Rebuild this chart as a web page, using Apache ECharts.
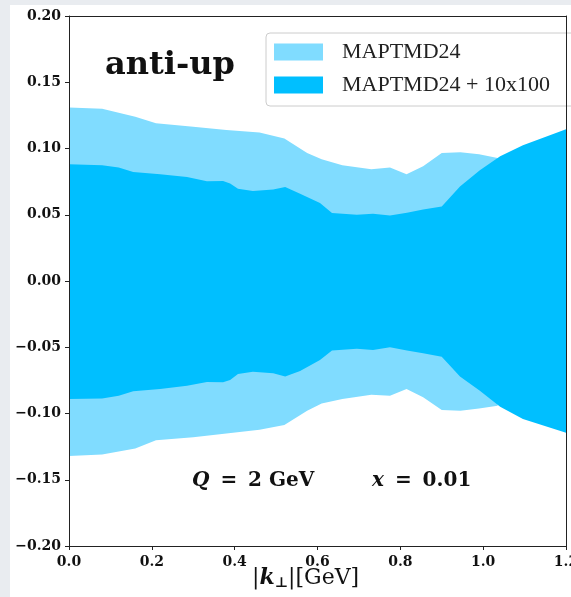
<!DOCTYPE html>
<html>
<head>
<meta charset="utf-8">
<script src="https://cdn.jsdelivr.net/npm/echarts@6/dist/echarts.min.js"></script>
<style>
  html, body { margin: 0; padding: 0; background: #e9ecf0; }
  #paper { position: absolute; left: 10px; top: 5px; width: 561px; height: 592px; background: #ffffff; }
  #chart { position: absolute; left: 0; top: 0; width: 571px; height: 597px; }
</style>
</head>
<body>
<div id="paper"></div>
<div id="chart"></div>
<script>
// ---- data ----
const xTicks = [0.0, 0.2, 0.4, 0.6, 0.8, 1.0, 1.2];
const yTicks = [-0.20, -0.15, -0.10, -0.05, 0.00, 0.05, 0.10, 0.15, 0.20];

// MAPTMD24 band (light)
const kLight = [0, 0.08, 0.16, 0.21, 0.30, 0.38, 0.46, 0.52, 0.575, 0.61, 0.66, 0.73, 0.775, 0.815, 0.855, 0.90, 0.945, 0.99, 1.035];
const upLight = [0.131, 0.130, 0.124, 0.119, 0.1165, 0.114, 0.112, 0.1075, 0.0966, 0.0918, 0.0873, 0.0843, 0.0856, 0.0805, 0.0866, 0.0966, 0.0971, 0.0956, 0.0928];
const loLight = [-0.132, -0.131, -0.1264, -0.1201, -0.118, -0.1151, -0.1123, -0.1087, -0.0979, -0.0924, -0.0891, -0.0858, -0.0866, -0.0815, -0.0878, -0.0974, -0.0979, -0.0962, -0.0941];

// MAPTMD24 + 10x100 band (dark)
const kDark = [0, 0.08, 0.12, 0.155, 0.22, 0.285, 0.333, 0.372, 0.389, 0.408, 0.444, 0.493, 0.522, 0.558, 0.606, 0.635, 0.695, 0.734, 0.775, 0.816, 0.855, 0.90, 0.944, 0.992, 1.041, 1.096, 1.2];
const upDark = [0.0881, 0.0873, 0.0856, 0.0823, 0.0805, 0.0785, 0.0752, 0.0755, 0.0735, 0.0697, 0.0679, 0.0690, 0.0709, 0.0659, 0.0588, 0.0513, 0.0500, 0.0508, 0.0495, 0.0516, 0.0540, 0.0563, 0.0714, 0.0835, 0.0941, 0.1024, 0.1145];
const loDark = [-0.0891, -0.0886, -0.0866, -0.0833, -0.0815, -0.0790, -0.0762, -0.0765, -0.0747, -0.0702, -0.0684, -0.0697, -0.0720, -0.0680, -0.0596, -0.0525, -0.0512, -0.0520, -0.0500, -0.0525, -0.0546, -0.0571, -0.0720, -0.0828, -0.0949, -0.1042, -0.1145];

const seriesNames = ['MAPTMD24', 'MAPTMD24 + 10x100'];
const colLight = '#80dcff';
const colDark = '#00bfff';

function bandRender(ks, up, lo, color) {
  return function (params, api) {
    if (params.dataIndex !== 0) return null;
    const pts = [];
    for (let i = 0; i < ks.length; i++) pts.push(api.coord([ks[i], up[i]]));
    for (let i = ks.length - 1; i >= 0; i--) pts.push(api.coord([ks[i], lo[i]]));
    return { type: 'polygon', shape: { points: pts }, style: { fill: color } };
  };
}

const chart = echarts.init(document.getElementById('chart'), null, { renderer: 'canvas' });
const tickFont = 'DejaVu Serif';
const richMath = {
  i: { font: 'bold italic 20px "DejaVu Serif"', fill: '#111' },
  b: { font: 'bold 20px "DejaVu Serif"', fill: '#111' }
};
const spine = { show: true, onZero: false, lineStyle: { color: '#222', width: 1 } };
chart.setOption({
  backgroundColor: 'transparent',
  animation: false,
  grid: { left: 69, right: 5, top: 16, bottom: 51, show: false, containLabel: false, outerBoundsMode: 'none' },
  xAxis: [{
    type: 'value', position: 'bottom', min: xTicks[0], max: xTicks[xTicks.length - 1], interval: 0.2, z: 10,
    axisLine: spine,
    axisTick: { show: true, length: 4, lineStyle: { color: '#222' } },
    splitLine: { show: false },
    axisLabel: { margin: 9, color: '#111', fontFamily: tickFont, fontWeight: 'bold', fontSize: 14,
      hideOverlap: false, formatter: v => v.toFixed(1) }
  }, {
    type: 'value', position: 'top', min: xTicks[0], max: xTicks[xTicks.length - 1], interval: 0.2, z: 10,
    axisLine: spine, axisTick: { show: false }, axisLabel: { show: false }, splitLine: { show: false }
  }],
  yAxis: [{
    type: 'value', position: 'left', min: yTicks[0], max: yTicks[yTicks.length - 1], interval: 0.05, z: 10,
    axisLine: spine,
    axisTick: { show: true, length: 4, lineStyle: { color: '#222' } },
    splitLine: { show: false },
    axisLabel: { margin: 8, color: '#111', fontFamily: tickFont, fontWeight: 'bold', fontSize: 14,
      formatter: v => v.toFixed(2).replace('-', '\u2212') }
  }, {
    type: 'value', position: 'right', min: yTicks[0], max: yTicks[yTicks.length - 1], interval: 0.05, z: 10,
    axisLine: spine, axisTick: { show: false }, axisLabel: { show: false }, splitLine: { show: false }
  }],
  legend: {
    orient: 'vertical', left: 266, top: 33, z: 5,
    padding: [8, 40, 10, 8], itemGap: 11,
    itemWidth: 49, itemHeight: 17, icon: 'rect',
    backgroundColor: 'rgba(255,255,255,0.85)', borderColor: '#cccccc', borderWidth: 1, borderRadius: 4,
    selectedMode: false,
    textStyle: { fontFamily: 'Liberation Serif', fontSize: 22, color: '#222', padding: [0, 0, 0, 14] },
    data: [
      { name: seriesNames[0], itemStyle: { color: colLight } },
      { name: seriesNames[1], itemStyle: { color: colDark } }
    ]
  },
  graphic: [
    { type: 'text', left: 105, top: 50, style: { text: 'anti-up', font: 'bold 32px "DejaVu Serif"', fill: '#111' } },
    { type: 'text', left: 192, top: 471, style: { text: '{i|Q}{b|\u2009 = \u20092 GeV}', rich: richMath } },
    { type: 'text', left: 372, top: 471, style: { text: '{i|x}{b|\u2009 = \u20090.01}', rich: richMath } },
    { type: 'text', left: 252, top: 567, style: {
      text: '{r||}{k|k}{s|\u22a5}{r||[GeV]}',
      rich: {
        r: { font: '22px "DejaVu Serif"', fill: '#111' },
        k: { font: 'bold italic 22px "DejaVu Serif"', fill: '#111' },
        s: { font: 'bold 14px "DejaVu Serif"', fill: '#111', padding: [10, 0, 0, 0] }
      } } }
  ],
  series: [
    { type: 'custom', name: seriesNames[0], clip: true, z: 2,
      itemStyle: { color: colLight },
      renderItem: bandRender(kLight, upLight, loLight, colLight),
      encode: { x: 0, y: 1 },
      data: kLight.map((k, i) => [k, upLight[i], loLight[i]]) },
    { type: 'custom', name: seriesNames[1], clip: true, z: 3,
      itemStyle: { color: colDark },
      renderItem: bandRender(kDark, upDark, loDark, colDark),
      encode: { x: 0, y: 1 },
      data: kDark.map((k, i) => [k, upDark[i], loDark[i]]) }
  ]
});
</script>
</body>
</html>
